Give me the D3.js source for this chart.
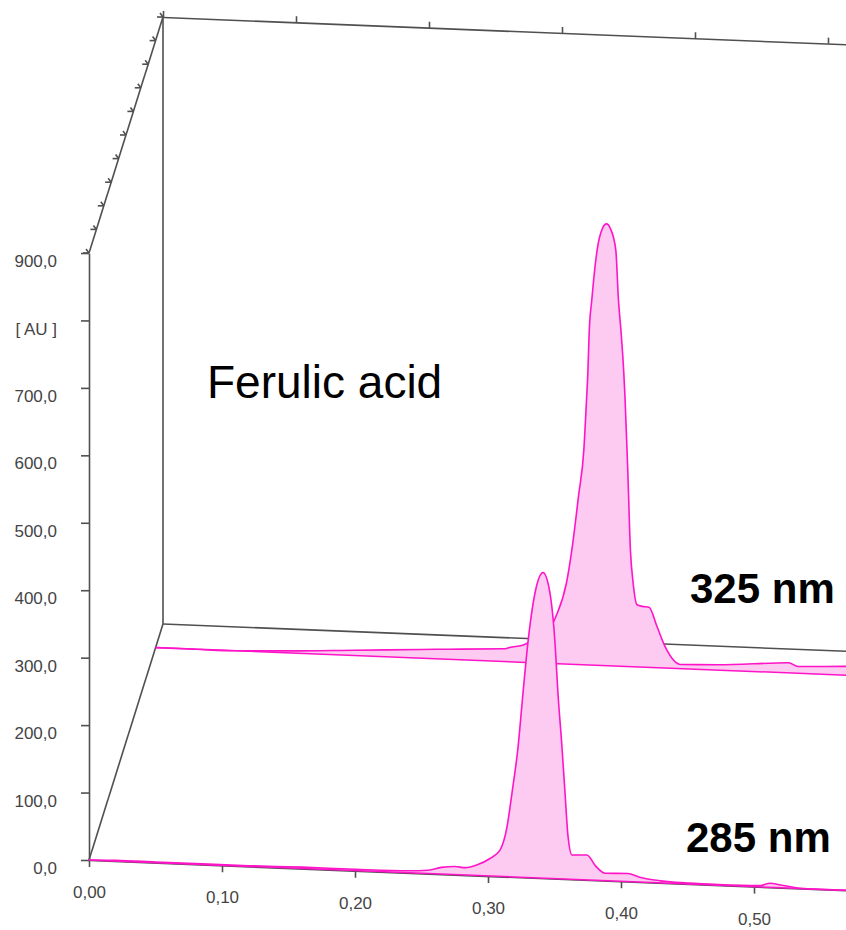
<!DOCTYPE html>
<html>
<head>
<meta charset="utf-8">
<script src="https://cdn.jsdelivr.net/npm/d3@7"></script>
<style>
  body { margin: 0; background: #fff; }
  text { font-family: Arial, "Liberation Sans", sans-serif; }
</style>
</head>
<body>
<div id="chart"></div>
<script>
// tick values of the three axes
var timeTicks = [0, 0.1, 0.2, 0.3, 0.4, 0.5];
var auTicks = [0, 100, 200, 300, 400, 500, 600, 700, 800, 900];
var depthTicks = [0, 0.1, 0.2, 0.3, 0.4, 0.5, 0.6, 0.7, 0.8, 0.9, 1];

// 285 nm trace (front row)
var time285 = [0, 0.02, 0.05, 0.08, 0.12, 0.16, 0.2, 0.24, 0.255, 0.265, 0.275, 0.283, 0.292,
  0.3015, 0.309, 0.3143, 0.318, 0.3226, 0.3263, 0.33, 0.3353, 0.3414, 0.3466, 0.3504, 0.3526,
  0.3556, 0.3579, 0.3602, 0.3632, 0.3744, 0.381, 0.388, 0.405, 0.414, 0.43, 0.473, 0.505,
  0.512, 0.52, 0.536, 0.569, 0.6];
var au285 = [0, 1, 1, 1, 1, 2, 2, 3, 5, 10, 12, 11, 16,
  26, 39, 74, 124, 193, 273, 348, 422, 453, 423, 349, 275,
  196, 128, 63, 36, 37, 21, 11, 12, 7, 3, 1, 2,
  6, 4, 0, 0, 0];

// 325 nm trace (back row)
var time325 = [0, 0.03, 0.06, 0.1, 0.15, 0.2, 0.22, 0.263, 0.266, 0.277, 0.288, 0.299, 0.301,
  0.309, 0.313, 0.318, 0.322, 0.324, 0.325, 0.326, 0.328, 0.332, 0.336, 0.339, 0.342, 0.346,
  0.348, 0.35, 0.352, 0.353, 0.355, 0.357, 0.359, 0.362, 0.366, 0.371, 0.377, 0.383, 0.395,
  0.423, 0.476, 0.483, 0.518, 0.6];
var au325 = [0, 0, 0, 3, 8, 13, 15, 19, 21, 26, 40, 61, 70,
  121, 170, 250, 319, 393, 433, 493, 542, 616, 648, 655, 648, 617,
  543, 495, 436, 396, 292, 173, 125, 92, 90, 89, 61, 32, 6,
  8, 15, 10, 13, 10];

var depth285 = 0, depth325 = 0.9;

var svgWidth = 846;
var svgHeight = 930;

var svg = d3.select("#chart").append("svg")
  .attr("width", svgWidth)
  .attr("height", svgHeight);

// origin of the front plane and the pseudo 3d directions
var origin = { x: 89, y: 860 };
var slope = 0.04;                 // x axis runs slightly downhill
var depthShift = { x: 74, y: -236 };
var skewDeg = Math.atan(slope) * 180 / Math.PI;

var xScale = d3.scaleLinear().domain([0, 0.6]).range([0, 798]);
var yScale = d3.scaleLinear().domain([0, 900]).range([860, 253]);
var dScale = d3.scaleLinear().domain([0, 1]).range([0, 1]);

function P(t, au, d) {
  var u = xScale(t);
  return [origin.x + u + depthShift.x * dScale(d),
          yScale(au) + u * slope + depthShift.y * dScale(d)];
}

var comma = d3.formatLocale({ decimal: ",", thousands: ".", grouping: [3], currency: ["", ""] });
var fmtAU = comma.format(".1f");
var fmtT = comma.format(".2f");

var gray = "#505050";
var pink = "#ff14c8";
var pinkFill = "#fdcbf1";

var frame = svg.append("g")
  .attr("fill", "none")
  .attr("stroke", gray)
  .attr("stroke-width", 1.6);

function seg(a, b) {
  frame.append("line")
    .attr("x1", a[0]).attr("y1", a[1])
    .attr("x2", b[0]).attr("y2", b[1]);
}

// back wall and the two depth edges
seg(P(0, 0, 1), P(0, 900, 1));
seg(P(0, 0, 1), P(0.6, 0, 1));
seg(P(0, 900, 0), P(0, 900, 1));
seg(P(0, 0, 0), P(0, 0, 1));

// ticks along the top depth edge
depthTicks.forEach(function (d) {
  var p = P(0, 900, d);
  seg(p, [p[0] - 6, p[1]]);
  seg(p, [p[0] - 3, p[1] - 4]);
});

// back top time axis (ticks only)
svg.append("g")
  .attr("transform", "translate(" + P(0, 900, 1) + ") skewY(" + skewDeg + ")")
  .call(d3.axisTop(xScale).tickValues(timeTicks).tickSize(6).tickSizeOuter(0).tickFormat(""))
  .call(function (g) {
    g.selectAll("path, line").attr("stroke", gray).attr("stroke-width", 1.6);
  });

// front y axis
svg.append("g")
  .attr("transform", "translate(" + origin.x + ",0)")
  .call(d3.axisLeft(yScale).tickValues(auTicks).tickSize(8).tickSizeOuter(0).tickPadding(24)
    .tickFormat(function (d) { return d === 800 ? "[ AU ]" : fmtAU(d); }))
  .call(function (g) {
    g.selectAll("path, line").attr("stroke", gray).attr("stroke-width", 1.6);
    g.selectAll("text").attr("dy", ".8em").attr("fill", "#444")
      .style("font-size", "17px").style("font-family", "Arial, 'Liberation Sans', sans-serif");
  });

// front time axis
svg.append("g")
  .attr("transform", "translate(" + origin.x + "," + origin.y + ") skewY(" + skewDeg + ")")
  .call(d3.axisBottom(xScale).tickValues(timeTicks).tickSize(7).tickSizeOuter(0).tickPadding(19)
    .tickFormat(fmtT))
  .call(function (g) {
    g.selectAll("path, line").attr("stroke", gray).attr("stroke-width", 1.6);
    g.selectAll("text").attr("fill", "#444").attr("transform", "skewY(" + (-skewDeg) + ")")
      .style("font-size", "17px").style("font-family", "Arial, 'Liberation Sans', sans-serif");
  });

// chromatogram traces
function drawTrace(times, values, depth) {
  var rows = times.map(function (t, i) { return { t: t, au: values[i] }; });
  var area = d3.area()
    .curve(d3.curveMonotoneX)
    .x(function (d) { return P(d.t, d.au, depth)[0]; })
    .y0(function (d) { return P(d.t, 0, depth)[1]; })
    .y1(function (d) { return P(d.t, d.au, depth)[1]; });
  var line = d3.line()
    .curve(d3.curveMonotoneX)
    .x(function (d) { return P(d.t, d.au, depth)[0]; })
    .y(function (d) { return P(d.t, d.au, depth)[1]; });
  var g = svg.append("g");
  g.append("path").datum(rows).attr("d", area).attr("fill", pinkFill);
  g.append("line")
    .attr("x1", P(0, 0, depth)[0]).attr("y1", P(0, 0, depth)[1])
    .attr("x2", P(0.6, 0, depth)[0]).attr("y2", P(0.6, 0, depth)[1])
    .attr("stroke", pink).attr("stroke-width", 1.5);
  g.append("path").datum(rows).attr("d", line)
    .attr("fill", "none").attr("stroke", pink).attr("stroke-width", 1.6);
}

drawTrace(time325, au325, depth325);
drawTrace(time285, au285, depth285);

// annotations
svg.append("text")
  .attr("x", 207).attr("y", 398)
  .style("font-size", "46px")
  .text("Ferulic acid");

svg.append("text")
  .attr("x", 690).attr("y", 603)
  .style("font-size", "42px").style("font-weight", "bold")
  .text("325 nm");

svg.append("text")
  .attr("x", 686).attr("y", 852)
  .style("font-size", "42px").style("font-weight", "bold")
  .text("285 nm");
</script>
</body>
</html>
